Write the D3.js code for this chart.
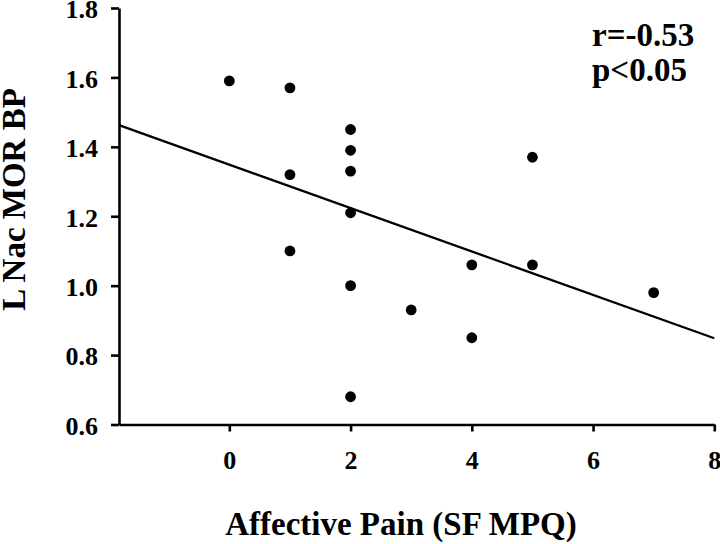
<!DOCTYPE html>
<html>
<head>
<meta charset="utf-8">
<script src="https://cdn.jsdelivr.net/npm/d3@7"></script>
<style>
  html, body { margin: 0; padding: 0; background: #fff; }
  svg { display: block; }
  text { font-family: "Liberation Serif", "Times New Roman", serif; font-weight: bold; fill: #000; }
</style>
</head>
<body>
<svg id="chart" width="720" height="544"></svg>
<script>
// Data
const painScores = [0, 1, 1, 1, 2, 2, 2, 2, 2, 2, 3, 4, 4, 5, 5, 7];
const morBP      = [1.59, 1.57, 1.32, 1.10, 1.45, 1.39, 1.33, 1.21, 1.00, 0.68, 0.93, 1.06, 0.85, 1.37, 1.06, 0.98];
const xTicks = [0, 2, 4, 6, 8];
const yTicks = [0.6, 0.8, 1.0, 1.2, 1.4, 1.6, 1.8];
const xDomain = [-1.82, 8];
const yDomain = [0.6, 1.8];
const statLines = ["r=-0.53", "p<0.05"];
const xTitle = "Affective Pain (SF MPQ)";
const yTitle = "L Nac MOR BP";

const svg = d3.select("#chart");
const plot = { left: 119, right: 714.3, top: 8, bottom: 424.5 };

const x = d3.scaleLinear().domain(xDomain).range([plot.left, plot.right]);
const y = d3.scaleLinear().domain(yDomain).range([plot.bottom, plot.top]);

// Least-squares regression line from the data
const n = painScores.length;
const mx = d3.mean(painScores), my = d3.mean(morBP);
let sxy = 0, sxx = 0;
for (let i = 0; i < n; i++) {
  sxy += (painScores[i] - mx) * (morBP[i] - my);
  sxx += (painScores[i] - mx) ** 2;
}
const slope = sxy / sxx, intercept = my - slope * mx;

// Axes
const xAxis = d3.axisBottom(x).tickValues(xTicks).tickFormat(d3.format("d")).tickSize(7).tickSizeOuter(0).tickPadding(19);
const yAxis = d3.axisLeft(y).tickValues(yTicks).tickFormat(d3.format(".1f")).tickSize(8).tickSizeOuter(0).tickPadding(13);

const gx = svg.append("g").attr("transform", `translate(0,${plot.bottom})`).call(xAxis);
const gy = svg.append("g").attr("transform", `translate(${plot.left},0)`).call(yAxis);

[gx, gy].forEach(g => {
  g.selectAll(".domain").attr("stroke", "#000").attr("stroke-width", 2.6);
  g.selectAll(".tick line").attr("stroke", "#000").attr("stroke-width", 2.6);
  g.selectAll(".tick text").style("font-family", '"Liberation Serif", serif').style("font-weight", "bold").style("font-size", "26px").attr("fill", "#000");
});
gx.selectAll(".tick text").attr("dy", "0.71em");
gy.selectAll(".tick text").attr("dy", "0.38em");

// Regression line
svg.append("line")
  .attr("x1", x(xDomain[0])).attr("y1", y(intercept + slope * xDomain[0]))
  .attr("x2", x(xDomain[1])).attr("y2", y(intercept + slope * xDomain[1]))
  .attr("stroke", "#000").attr("stroke-width", 2.3);

// Points
svg.append("g").selectAll("circle")
  .data(painScores.map((v, i) => [v, morBP[i]]))
  .join("circle")
  .attr("cx", d => x(d[0])).attr("cy", d => y(d[1]))
  .attr("r", 5.4).attr("fill", "#000");

// Stats text
svg.append("g").selectAll("text")
  .data(statLines)
  .join("text")
  .attr("x", 592).attr("y", (d, i) => 45.5 + i * 35)
  .style("font-size", "33px")
  .text(d => d);

// Axis titles
svg.append("text")
  .attr("x", 401).attr("y", 535)
  .attr("text-anchor", "middle")
  .style("font-size", "33px")
  .text(xTitle);

svg.append("text")
  .attr("transform", `translate(25,199.5) rotate(-90)`)
  .attr("text-anchor", "middle")
  .style("font-size", "33px")
  .text(yTitle);
</script>
</body>
</html>
